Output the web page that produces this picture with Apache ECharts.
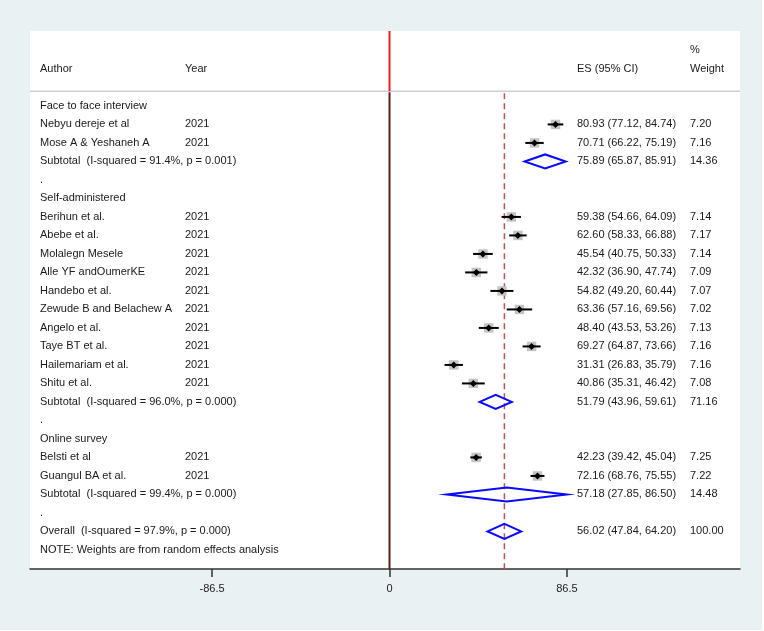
<!DOCTYPE html>
<html>
<head>
<meta charset="utf-8">
<script src="https://cdn.jsdelivr.net/npm/echarts@6/dist/echarts.min.js"></script>
<style>
  html, body { margin: 0; padding: 0; background: #ffffff; }
  #chart { width: 762px; height: 630px; }
</style>
</head>
<body>
<div id="chart"></div>
<script>
// ---------------- data ----------------
const rowKinds = ['group','study','study','subtotal','dot',
  'group','study','study','study','study','study','study','study','study','study','study','subtotal','dot',
  'group','study','study','subtotal','dot',
  'overall','note'];
const rowLabels = ['Face to face interview','Nebyu dereje et al','Mose A & Yeshaneh A','Subtotal  (I-squared = 91.4%, p = 0.001)','.',
  'Self-administered','Berihun et al.','Abebe et al.','Molalegn Mesele','Alle YF andOumerKE','Handebo et al.','Zewude B and Belachew A','Angelo et al.','Taye BT et al.','Hailemariam et al.','Shitu et al.','Subtotal  (I-squared = 96.0%, p = 0.000)','.',
  'Online survey','Belsti et al','Guangul BA et al.','Subtotal  (I-squared = 99.4%, p = 0.000)','.',
  'Overall  (I-squared = 97.9%, p = 0.000)','NOTE: Weights are from random effects analysis'];
const years = [null,'2021','2021',null,null,
  null,'2021','2021','2021','2021','2021','2021','2021','2021','2021','2021',null,null,
  null,'2021','2021',null,null,null,null];
const es = [null,80.93,70.71,75.89,null,
  null,59.38,62.60,45.54,42.32,54.82,63.36,48.40,69.27,31.31,40.86,51.79,null,
  null,42.23,72.16,57.18,null,56.02,null];
const ciLow = [null,77.12,66.22,65.87,null,
  null,54.66,58.33,40.75,36.90,49.20,57.16,43.53,64.87,26.83,35.31,43.96,null,
  null,39.42,68.76,27.85,null,47.84,null];
const ciHigh = [null,84.74,75.19,85.91,null,
  null,64.09,66.88,50.33,47.74,60.44,69.56,53.26,73.66,35.79,46.42,59.61,null,
  null,45.04,75.55,86.50,null,64.20,null];
const weights = [null,7.20,7.16,14.36,null,
  null,7.14,7.17,7.14,7.09,7.07,7.02,7.13,7.16,7.16,7.08,71.16,null,
  null,7.25,7.22,14.48,null,100.00,null];
const headerCols = ['Author','Year','ES (95% CI)','%','Weight'];
const xTickValues = [-86.5, 0, 86.5];
const nullValue = 0;
const overallES = 56.02;

// ---------------- layout constants ----------------
const FONT = '11px "Liberation Sans", Arial, sans-serif';
const TXT = '#1a1a1a';
const COL_AUTHOR = 10, COL_YEAR = 155, COL_ES = 547, COL_W = 660;
const Y_MIN = -4.05, Y_MAX = 25.03;
const X_MIN = -175.3, X_MAX = 170.9;

function txt(x, y, s) {
  return { type: 'text', x: x, y: y, style: { text: s, fill: TXT, font: FONT, align: 'left', verticalAlign: 'middle' } };
}

const chart = echarts.init(document.getElementById('chart'), null, { renderer: 'canvas' });

const option = {
  backgroundColor: '#eaf1f3',
  animation: false,
  grid: { left: 30, right: 22, top: 31, bottom: 61, show: true, backgroundColor: '#ffffff', borderWidth: 0 },
  xAxis: {
    type: 'value', min: X_MIN, max: X_MAX,
    splitLine: { show: false },
    axisLine: { show: true, onZero: false, lineStyle: { color: '#333333', width: 1.5 } },
    axisTick: { show: true, customValues: xTickValues, length: 8, lineStyle: { color: '#333333', width: 1.5 } },
    axisLabel: { show: true, customValues: xTickValues, margin: 14, color: '#222222', fontSize: 11, fontFamily: '"Liberation Sans", Arial, sans-serif',
      formatter: v => String(v) }
  },
  yAxis: {
    type: 'value', inverse: true, min: Y_MIN, max: Y_MAX, show: false
  },
  series: [
    // reference lines + header
    {
      type: 'custom', data: [[0]], silent: true, z: 1,
      renderItem: function (params, api) {
        const cs = params.coordSys;
        const sepY = api.coord([0, -0.8])[1];
        const top = cs.y, bot = cs.y + cs.height;
        const x0 = api.coord([nullValue, 0])[0];
        const xo = api.coord([overallES, 0])[0];
        const hy1 = api.coord([0, -2])[1];
        const hy0 = api.coord([0, -3])[1];
        return {
          type: 'group', children: [
            { type: 'line', shape: { x1: cs.x, y1: sepY, x2: cs.x + cs.width, y2: sepY }, style: { stroke: '#cfcfcf', lineWidth: 1.5 } },
            { type: 'line', shape: { x1: x0, y1: top, x2: x0, y2: sepY }, style: { stroke: '#ee1c1c', lineWidth: 2 } },
            { type: 'line', shape: { x1: x0, y1: sepY + 1, x2: x0, y2: bot }, style: { stroke: '#5e1b1b', lineWidth: 2 } },
            { type: 'line', shape: { x1: xo, y1: sepY + 2, x2: xo, y2: bot }, style: { stroke: '#c0505c', lineWidth: 1.5, lineDash: [6, 4] } },
            txt(cs.x + COL_AUTHOR, hy1, headerCols[0]),
            txt(cs.x + COL_YEAR, hy1, headerCols[1]),
            txt(cs.x + COL_ES, hy1, headerCols[2]),
            txt(cs.x + COL_W, hy0, headerCols[3]),
            txt(cs.x + COL_W, hy1, headerCols[4])
          ]
        };
      }
    },
    // rows
    {
      type: 'custom', silent: true, z: 2,
      data: rowKinds.map((k, i) => [i]),
      renderItem: function (params, api) {
        const i = params.dataIndex;
        const row = api.value(0);
        const cs = params.coordSys;
        const y = api.coord([0, row])[1];
        const kind = rowKinds[i];
        const children = [];
        children.push(txt(cs.x + COL_AUTHOR, y, rowLabels[i]));
        if (years[i]) children.push(txt(cs.x + COL_YEAR, y, years[i]));
        if (es[i] != null) {
          children.push(txt(cs.x + COL_ES, y, es[i].toFixed(2) + ' (' + ciLow[i].toFixed(2) + ', ' + ciHigh[i].toFixed(2) + ')'));
          children.push(txt(cs.x + COL_W, y, weights[i].toFixed(2)));
          const xe = api.coord([es[i], row])[0];
          const xl = api.coord([ciLow[i], row])[0];
          const xh = api.coord([ciHigh[i], row])[0];
          if (kind === 'study') {
            const s = 9.5 * Math.sqrt(weights[i] / 7.2);
            children.push({ type: 'rect', shape: { x: xe - s / 2, y: y - s / 2, width: s, height: s }, style: { fill: '#c4c4c4' } });
            children.push({ type: 'line', shape: { x1: xl, y1: y, x2: xh, y2: y }, style: { stroke: '#000000', lineWidth: 2 } });
            children.push({ type: 'polygon', shape: { points: [[xe - 3.5, y], [xe, y - 3.5], [xe + 3.5, y], [xe, y + 3.5]] }, style: { fill: '#000000' } });
          } else {
            const h = kind === 'overall' ? 7.5 : 7;
            children.push({ type: 'polygon', shape: { points: [[xl, y], [xe, y - h], [xh, y], [xe, y + h]] }, style: { fill: 'none', stroke: '#0a0aff', lineWidth: 2 } });
          }
        }
        return { type: 'group', children: children };
      }
    }
  ]
};
chart.setOption(option);
</script>
</body>
</html>
